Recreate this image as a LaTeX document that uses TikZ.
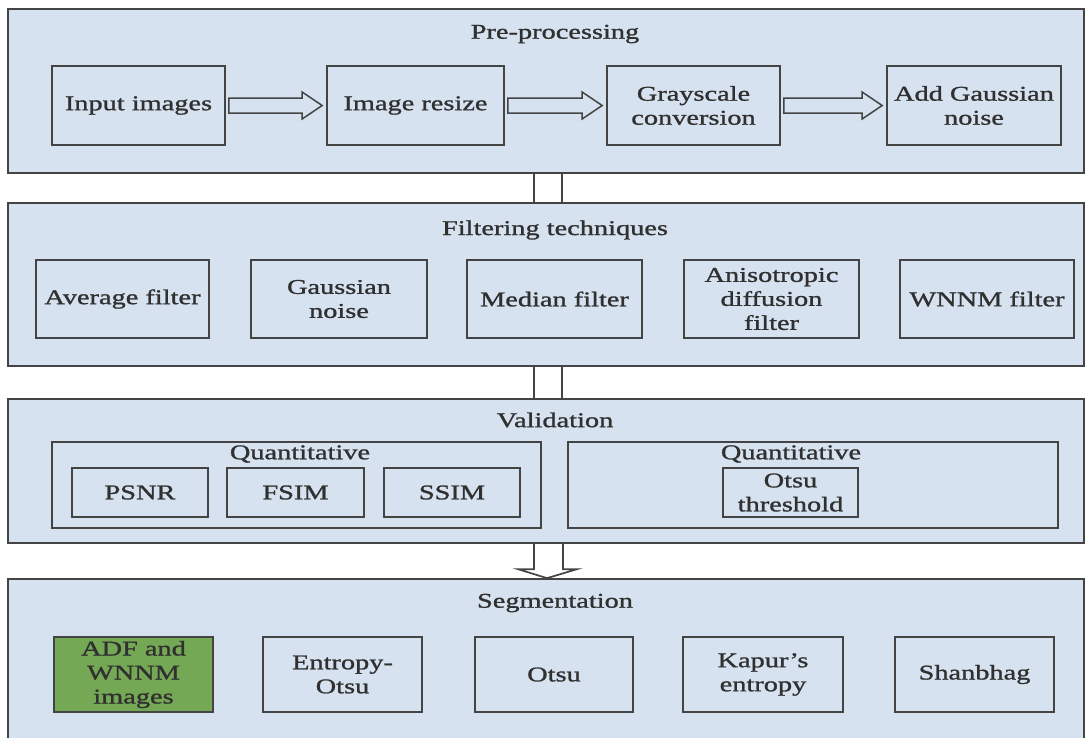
\documentclass[tikz,border=0pt]{standalone}
\usepackage{fontspec}
\setmainfont{Liberation Serif}[FakeStretch=1.35,FakeBold=1.2]
\usetikzlibrary{calc}
\definecolor{panelc}{RGB}{214,226,239}
\definecolor{linec}{RGB}{68,68,68}
\definecolor{textc}{RGB}{48,48,48}
\definecolor{greenc}{RGB}{116,168,84}
\tikzset{
  panel/.style={draw=linec, line width=1.7pt, fill=panelc, inner sep=0pt},
  ttl/.style={text=textc, inner sep=0pt, font=\fontsize{21}{24}\selectfont},
  bx/.style={draw=linec, line width=1.7pt, fill=panelc, text=textc, align=center, inner sep=0pt, font=\fontsize{21}{24}\selectfont},
  grp/.style={draw=linec, line width=1.7pt, fill=panelc, inner sep=0pt},
  conn/.style={draw=linec, line width=1.7pt},
  barrow/.style={draw=linec, line width=1.5pt, fill=panelc, line join=miter}
}
\newcommand{\blockarrow}[2]{%
  \draw[barrow] ($(#1.east)+(3,-7.5)$) -- ($(#2.west)+(-24,-7.5)$) -- ($(#2.west)+(-24,-13.5)$) -- ($(#2.west)+(-4,0)$) -- ($(#2.west)+(-24,13.5)$) -- ($(#2.west)+(-24,7.5)$) -- ($(#1.east)+(3,7.5)$) -- cycle;}
\begin{document}
\begin{tikzpicture}[x=1pt,y=-1pt]
\clip (0,0) rectangle (1086,737);
\fill[white] (0,0) rectangle (1086,737);
% panels
\node[panel, minimum width=1076pt, minimum height=164pt] (p1) at (546,91) {};
\node[panel, minimum width=1076pt, minimum height=163pt] (p2) at (546,284.5) {};
\node[panel, minimum width=1076pt, minimum height=144pt] (p3) at (546,471) {};
\node[panel, minimum width=1076pt, minimum height=170pt] (p4) at (546,664) {};
% titles
\node[ttl] (t1) at (555,34) {Pre-processing};
\node[ttl] (t2) at (555,230) {Filtering techniques};
\node[ttl] (t3) at (555,420) {Validation};
\node[ttl] (t4) at (555,603) {Segmentation};
% pre-processing
\node[bx, minimum width=173pt, minimum height=79pt] (in) at (138.5,105.5) {Input images};
\node[bx, minimum width=177pt, minimum height=79pt] (rs) at (415.5,105.5) {Image resize};
\node[bx, minimum width=173pt, minimum height=79pt] (gs) at (693.5,105.5) {Grayscale\\conversion};
\node[bx, minimum width=174pt, minimum height=79pt] (ag) at (974,105.5) {Add Gaussian\\noise};
\blockarrow{in}{rs}
\blockarrow{rs}{gs}
\blockarrow{gs}{ag}
% filtering
\node[bx, minimum width=173pt, minimum height=78pt] (af) at (122.5,299) {Average filter};
\node[bx, minimum width=176pt, minimum height=78pt] (gn) at (339,299) {Gaussian\\noise};
\node[bx, minimum width=175pt, minimum height=78pt] (mf) at (554.5,299) {Median filter};
\node[bx, minimum width=175pt, minimum height=78pt] (ad) at (771.5,299) {Anisotropic\\diffusion\\filter};
\node[bx, minimum width=174pt, minimum height=78pt] (wf) at (987,299) {WNNM filter};
% validation
\node[grp, minimum width=489pt, minimum height=86pt] (g1) at (296.5,485) {};
\node[ttl] (q1) at (300,454) {Quantitative};
\node[bx, minimum width=136pt, minimum height=49pt] (ps) at (140,492.5) {PSNR};
\node[bx, minimum width=137pt, minimum height=49pt] (fs) at (295.5,492.5) {FSIM};
\node[bx, minimum width=136pt, minimum height=49pt] (ss) at (452,492.5) {SSIM};
\node[grp, minimum width=490pt, minimum height=86pt] (g2) at (813,485) {};
\node[ttl] (q2) at (791,454) {Quantitative};
\node[bx, minimum width=135pt, minimum height=49pt] (ot) at (790.5,492.5) {Otsu\\threshold};
% segmentation
\node[bx, fill=greenc, minimum width=159pt, minimum height=75pt] (adf) at (133.5,674.5) {ADF and\\WNNM\\images};
\node[bx, minimum width=159pt, minimum height=75pt] (eo) at (342.5,674.5) {Entropy-\\Otsu};
\node[bx, minimum width=158pt, minimum height=75pt] (os) at (554,674.5) {Otsu};
\node[bx, minimum width=160pt, minimum height=75pt] (kp) at (763,674.5) {Kapur’s\\entropy};
\node[bx, minimum width=159pt, minimum height=75pt] (sh) at (974.5,674.5) {Shanbhag};
% connectors
\draw[conn] ($(p1.south)+(-12,0)$) -- ($(p2.north)+(-12,0)$);
\draw[conn] ($(p1.south)+(16,0)$) -- ($(p2.north)+(16,0)$);
\draw[conn] ($(p2.south)+(-12,0)$) -- ($(p3.north)+(-12,0)$);
\draw[conn] ($(p2.south)+(16,0)$) -- ($(p3.north)+(16,0)$);
\draw[conn, line join=miter] ($(p3.south)+(-12,0)$) -- ($(p4.north)+(-12,-9)$) -- ($(p4.north)+(-28,-9)$) -- ($(p4.north)+(1,0)$) -- ($(p4.north)+(31,-9)$) -- ($(p4.north)+(17,-9)$) -- ($(p3.south)+(17,0)$);
\end{tikzpicture}
\end{document}
